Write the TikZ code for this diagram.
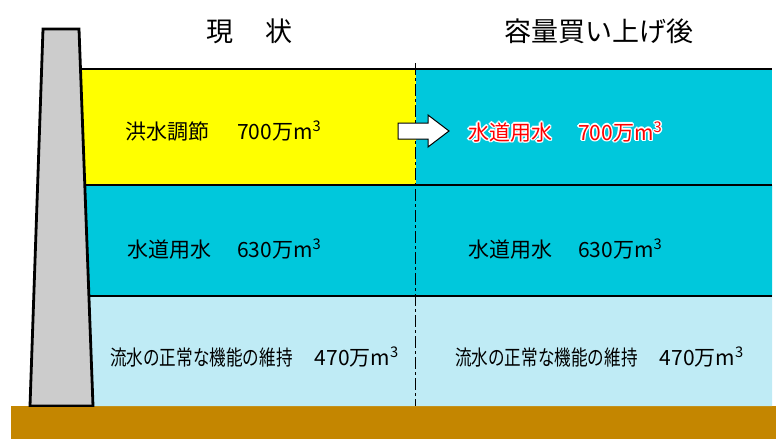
\documentclass[tikz,border=0pt]{standalone}
\usepackage{fontspec}
\setmainfont{Noto Sans CJK JP}
\newfontfamily\jp{Noto Sans CJK JP}
\usepackage{graphicx}
\definecolor{floodY}{HTML}{FFFF00}
\definecolor{waterC}{HTML}{00C8DC}
\definecolor{flowB}{HTML}{BFEBF5}
\definecolor{groundB}{HTML}{C48600}
\definecolor{damG}{HTML}{CCCCCC}
\tikzset{
  lab/.style={inner sep=0pt, anchor=west, font=\jp\fontsize{21pt}{24pt}\selectfont},
  ttl/.style={inner sep=0pt, font=\jp\fontsize{27pt}{30pt}\selectfont},
  bound/.style={line width=2.8pt, black},
  sep/.style={line width=1.3pt, black, dash pattern=on 12pt off 3pt on 3pt off 3pt},
}
\newcommand{\mcube}{m\textsuperscript{3}}
\begin{document}
\begin{tikzpicture}[x=1pt,y=-1pt]
\useasboundingbox (0,0) rectangle (776,439);
% ground
\fill[groundB] (11,406) rectangle (776,439);
% water layers
\fill[floodY] (80.5,69) -- (416,69) -- (416,185) -- (84.7,185) -- cycle;
\fill[waterC] (416,69) -- (772,69) -- (772,185) -- (416,185) -- cycle;
\fill[waterC] (84.7,185) -- (772,185) -- (772,296) -- (88.8,296) -- cycle;
\fill[flowB] (88.8,296) -- (772,296) -- (772,406) -- (92.8,406) -- cycle;
% layer boundaries
\coordinate (t1) at (80.5,69); \coordinate (t2) at (772,69);
\coordinate (m1) at (84.7,185); \coordinate (m2) at (772,185);
\coordinate (b1) at (88.8,296); \coordinate (b2) at (772,296);
\draw[bound] (t1) -- (t2);
\draw[bound] (m1) -- (m2);
\draw[bound] (b1) -- (b2);
% dashed divider
\coordinate (d1) at (415.5,63); \coordinate (d2) at (415.5,406);
\draw[sep] (d1) -- (d2);
% dam
\draw[bound, fill=damG, line join=miter] (43,29) -- (79,29) -- (93,406) -- (30,406) -- cycle;
\fill[groundB] (11,406.8) rectangle (776,439);
% titles
\node[ttl] (now) at (249.5,31) {現\hspace{0.22em}　状};
\node[ttl] (after) at (598.5,31) {容量買い上げ後};
% labels left
\node[lab] (flood) at (125,131) {洪水調節\hspace{28pt}700万\mcube};
\node[lab] (wl) at (127,249) {水道用水\hspace{26pt}630万\mcube};
\node[lab] (fl) at (110,357) {\scalebox{0.79}[1]{流水の正常な機能の維持}\hspace{22pt}470万\mcube};
% labels right (red with white halo)
\foreach \dx/\dy in {-1.4/0,1.4/0,0/-1.4,0/1.4,-1/-1,1/1,-1/1,1/-1}
  \node[lab, white] at ([xshift=\dx pt, yshift=\dy pt]468,132) {水道用水\hspace{26pt}700万\mcube};
\node[lab, red] (wr1) at (468,132) {水道用水\hspace{26pt}700万\mcube};
\node[lab] (wr2) at (468,249) {水道用水\hspace{26pt}630万\mcube};
\node[lab] (fr) at (455,357) {\scalebox{0.79}[1]{流水の正常な機能の維持}\hspace{22pt}470万\mcube};
% arrow
\draw[fill=white, line width=1pt, line join=miter] (398,123) -- (428,123) -- (428,115) -- (449,131) -- (428,147) -- (428,139) -- (398,139) -- cycle;
\end{tikzpicture}
\end{document}
